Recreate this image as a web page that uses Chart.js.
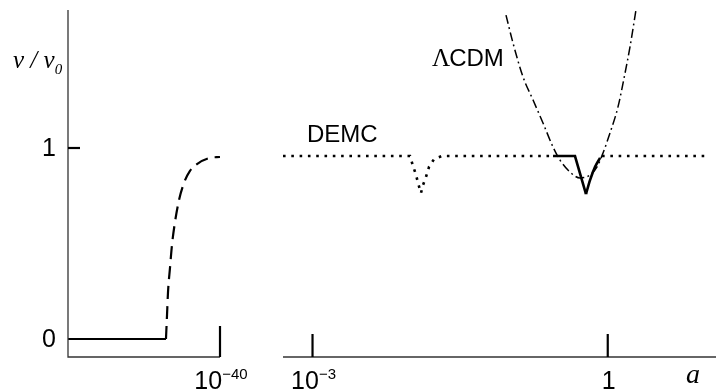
<!DOCTYPE html>
<html><head><meta charset="utf-8">
<script src="https://cdn.jsdelivr.net/npm/chart.js@4/dist/chart.umd.min.js"></script>
<style>
html,body{margin:0;padding:0;background:#fff;width:716px;height:392px;overflow:hidden}
#wrap{position:relative;width:716px;height:392px}
canvas{position:absolute;top:0}
#cl{left:0}#cr{left:260px}
</style></head><body>
<div id="wrap"><canvas id="cl" width="260" height="392"></canvas><canvas id="cr" width="456" height="392"></canvas></div>
<script>
// ---- data (x = log10 a, y = v / v0) ----
const leftFlatA = [-60, -47.11];
const leftFlatV = [0, 0];
const leftRiseA = [-47.11, -46.97, -46.84, -46.58, -46.32, -45.92, -45.39, -44.74, -43.95, -43.03, -41.32, -40];
const leftRiseV = [0, 0.126, 0.246, 0.372, 0.492, 0.613, 0.728, 0.817, 0.880, 0.916, 0.948, 0.953];

const demcA = [-3.3, -2.009, -1.979, -1.948, -1.928, -1.898, -1.877, -1.847, -1.816, -1.765, -1.684, -0.556, -0.3, -0.058, 0.99];
const demcV = [0.958, 0.958, 0.906, 0.859, 0.817, 0.764, 0.806, 0.848, 0.901, 0.942, 0.958, 0.958, null, 0.958, 0.958];

const solidA = [-0.556, -0.333, -0.221];
const solidV = [0.958, 0.958, 0.759];
const solidCurveA = [-0.221, -0.180, -0.129, -0.078];
const solidCurveV = [0.759, 0.832, 0.901, 0.948];

const lcdmA = [-1.034, -0.963, -0.861, -0.759, -0.658, -0.556, -0.485, -0.383, -0.282, -0.180, -0.109, -0.048, 0.023, 0.104, 0.176, 0.226, 0.287];
const lcdmV = [1.696, 1.550, 1.372, 1.251, 1.131, 1.005, 0.937, 0.874, 0.843, 0.859, 0.901, 0.974, 1.079, 1.215, 1.393, 1.529, 1.723];

const yTicks = [0, 1];
const yTickLabels = ['0', '1'];
const leftXTicks = [-40];
const leftXTickBase = ['10'];
const leftXTickExp = ['\u221240'];
const rightXTicks = [-3, 0];
const rightXTickBase = ['10', '1'];
const rightXTickExp = ['\u22123', ''];
const seriesNames = ['DEMC', '\u039BCDM'];

// ---- helpers ----
const SANS = '"Liberation Sans", Arial, sans-serif';
const SERIF = '"Liberation Serif", "Times New Roman", serif';
function pts(xs, ys) { return xs.map((x, i) => ({x: x, y: ys[i]})); }
function ds(xs, ys, extra) {
  return Object.assign({data: pts(xs, ys), showLine: true, borderColor: '#000', backgroundColor: '#000',
    borderWidth: 2, pointRadius: 0, fill: false, tension: 0, spanGaps: false}, extra || {});
}
function opts(xmin, xmax, pad) {
  return {responsive: false, animation: false, devicePixelRatio: 1, layout: {padding: pad},
    plugins: {legend: {display: false}, tooltip: {enabled: false}},
    scales: {x: {type: 'linear', display: false, min: xmin, max: xmax},
             y: {type: 'linear', display: false, min: -0.0942, max: 1.7225}}};
}
function supLabel(ctx, base, exp, cx, baseline) {
  ctx.font = '25px ' + SANS;
  const wb = ctx.measureText(base).width;
  ctx.font = '15px ' + SANS;
  const we = exp ? ctx.measureText(exp).width : 0;
  const x0 = cx - (wb + we) / 2;
  ctx.textAlign = 'left'; ctx.textBaseline = 'alphabetic';
  ctx.font = '25px ' + SANS; ctx.fillText(base, x0, baseline);
  if (exp) { ctx.font = '15px ' + SANS; ctx.fillText(exp, x0 + wb, baseline - 10); }
}

const leftDecor = {
  id: 'leftDecor',
  afterDraw(chart) {
    const {ctx, chartArea: ca, scales: {x, y}} = chart;
    ctx.save();
    ctx.fillStyle = '#000';
    ctx.strokeStyle = '#333'; ctx.lineWidth = 1.3;
    ctx.beginPath();
    ctx.moveTo(ca.left, ca.top); ctx.lineTo(ca.left, ca.bottom); ctx.lineTo(ca.right, ca.bottom);
    ctx.stroke();
    ctx.strokeStyle = '#000'; ctx.lineWidth = 2.2;
    const y1 = y.getPixelForValue(1);
    ctx.beginPath(); ctx.moveTo(ca.left, y1); ctx.lineTo(ca.left + 12, y1); ctx.stroke();
    ctx.font = '25px ' + SANS; ctx.textAlign = 'right'; ctx.textBaseline = 'middle';
    yTicks.forEach((v, i) => ctx.fillText(yTickLabels[i], ca.left - 12, y.getPixelForValue(v) + 1));
    leftXTicks.forEach((v, i) => {
      const px = x.getPixelForValue(v);
      ctx.beginPath(); ctx.moveTo(px, ca.bottom - 31); ctx.lineTo(px, ca.bottom); ctx.stroke();
      supLabel(ctx, leftXTickBase[i], leftXTickExp[i], px + 1, ca.bottom + 32);
    });
    ctx.textAlign = 'left'; ctx.textBaseline = 'alphabetic';
    ctx.font = 'italic 25px ' + SERIF;
    const t = 'v / v';
    ctx.fillText(t, 13, 68);
    const w = ctx.measureText(t).width;
    ctx.font = 'italic 15px ' + SERIF;
    ctx.fillText('0', 13 + w, 74);
    ctx.restore();
  }
};

const rightDecor = {
  id: 'rightDecor',
  afterDraw(chart) {
    const {ctx, chartArea: ca, scales: {x, y}} = chart;
    ctx.save();
    ctx.fillStyle = '#000';
    ctx.strokeStyle = '#333'; ctx.lineWidth = 1.3;
    ctx.beginPath(); ctx.moveTo(ca.left, ca.bottom); ctx.lineTo(ca.right, ca.bottom); ctx.stroke();
    ctx.strokeStyle = '#000'; ctx.lineWidth = 2.2;
    rightXTicks.forEach((v, i) => {
      const px = x.getPixelForValue(v);
      ctx.beginPath(); ctx.moveTo(px, ca.bottom - 23); ctx.lineTo(px, ca.bottom); ctx.stroke();
      supLabel(ctx, rightXTickBase[i], rightXTickExp[i], px + 1, ca.bottom + 32);
    });
    ctx.textAlign = 'left'; ctx.textBaseline = 'alphabetic';
    ctx.font = 'italic 28px ' + SERIF;
    ctx.fillText('a', 426, 383);
    ctx.font = '24px ' + SANS;
    ctx.fillText(seriesNames[0], 47, 142);
    ctx.font = '25px ' + SERIF;
    ctx.fillText('\u039B', 172, 66);
    const wl = ctx.measureText('\u039B').width;
    ctx.font = '24px ' + SANS;
    ctx.fillText('CDM', 172 + wl - 1, 66);
    ctx.restore();
  }
};

new Chart(document.getElementById('cl'), {
  type: 'scatter',
  data: {datasets: [
    ds(leftFlatA, leftFlatV, {borderWidth: 2}),
    ds(leftRiseA, leftRiseV, {borderWidth: 2.2, borderDash: [13, 7], cubicInterpolationMode: 'monotone'})
  ]},
  options: opts(-60, -40, {left: 68, right: 40, top: 10, bottom: 35}),
  plugins: [leftDecor]
});

new Chart(document.getElementById('cr'), {
  type: 'scatter',
  data: {datasets: [
    ds(demcA, demcV, {borderWidth: 2.6, borderDash: [2.6, 5.7]}),
    ds(lcdmA, lcdmV, {borderWidth: 1.5, borderDash: [9, 3.5, 1.8, 3.5], cubicInterpolationMode: 'monotone'}),
    ds(solidA, solidV, {borderWidth: 2.6}),
    ds(solidCurveA, solidCurveV, {borderWidth: 2.6, cubicInterpolationMode: 'monotone'})
  ]},
  options: opts(-3.3, 1.1, {left: 23, right: 0, top: 10, bottom: 35}),
  plugins: [rightDecor]
});
</script>
</body></html>
